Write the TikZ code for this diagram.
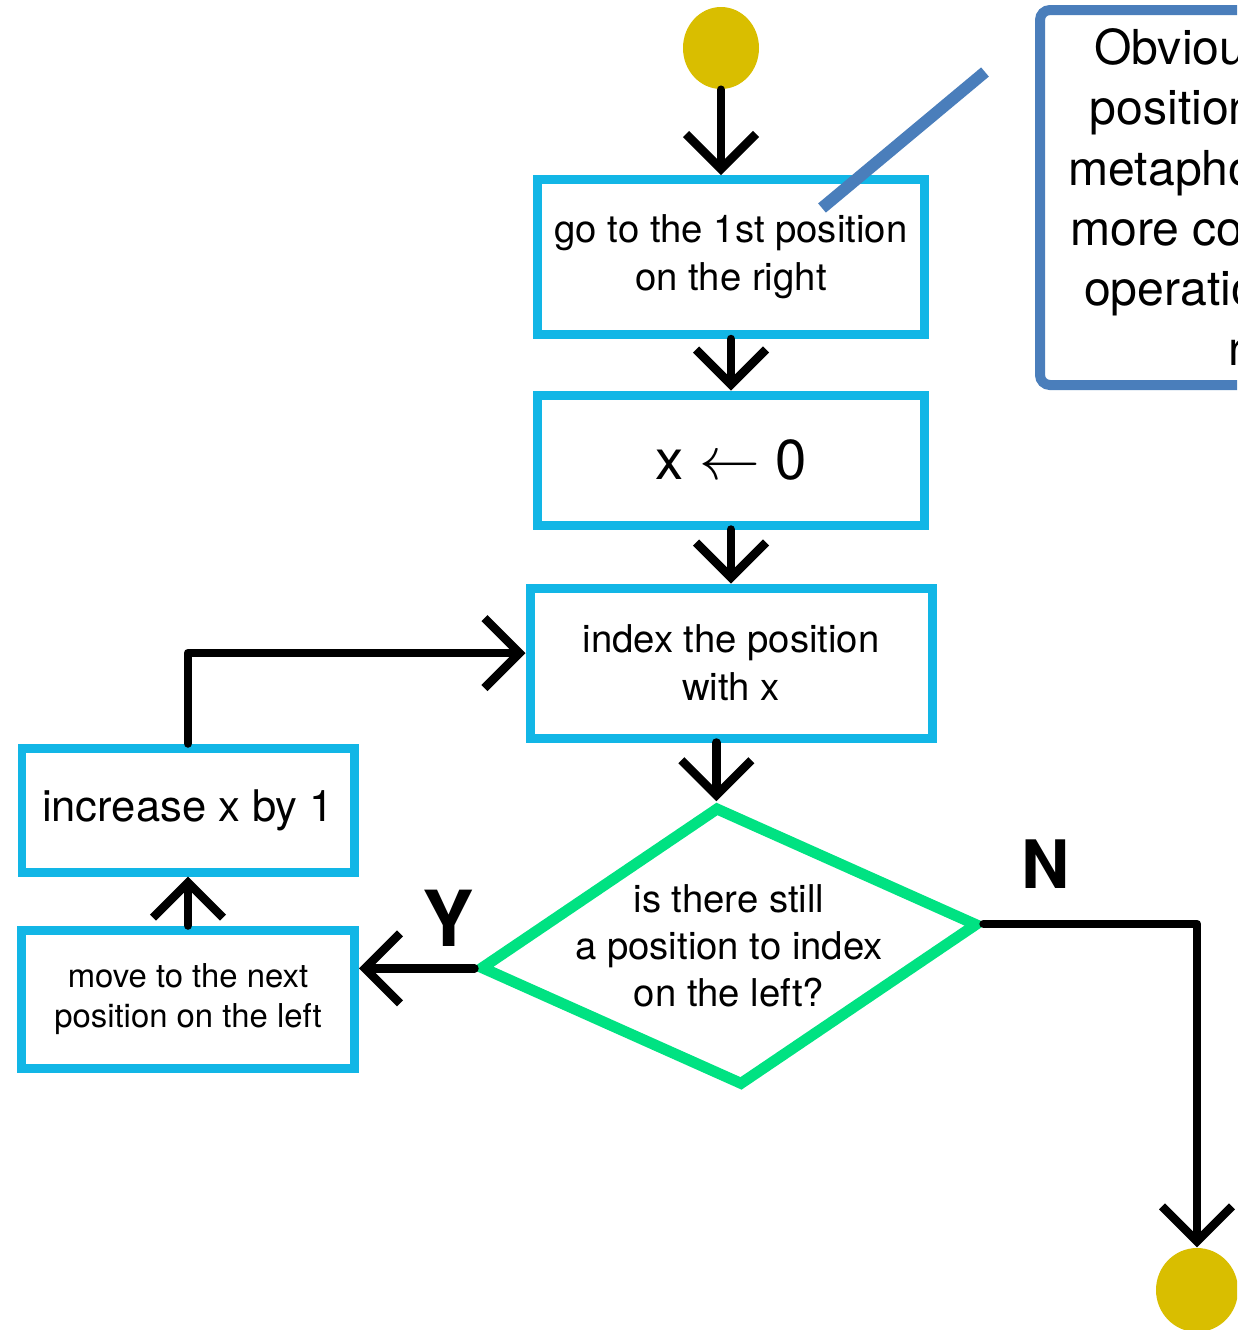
\documentclass[tikz,border=0pt]{standalone}
\usepackage{fontspec}
\setmainfont{TeX Gyre Heros}
\usepackage{xcolor}
\usetikzlibrary{positioning,shapes.geometric,arrows.meta}
\definecolor{boxcyan}{RGB}{18,182,230}
\definecolor{condgreen}{RGB}{0,226,130}
\definecolor{noteblue}{RGB}{74,126,187}
\definecolor{dotyellow}{RGB}{217,190,0}

\begin{document}
\begin{tikzpicture}[node distance=2cm, on grid,
    procbox/.style={draw=boxcyan, line width=0.09cm, align=center, inner sep=0pt,
      font=\fontsize{10.9}{13.7}\selectfont},
    decision/.style={diamond, draw=condgreen, line width=0.11cm, inner sep=0pt,
      minimum width=5cm, minimum height=2.8cm},
    terminal/.style={ellipse, fill=dotyellow, inner sep=0pt},
    note/.style={draw=noteblue, line width=0.1cm, rounded corners=1mm, align=center,
      inner sep=0pt, font=\fontsize{13.7}{17.1}\selectfont},
    flow/.style={-{Straight Barb[length=3.5mm,width=7mm]}, line width=0.085cm,
      line cap=round, line join=round},
    branch/.style={font=\fontsize{22}{22}\selectfont\bfseries}]
    \useasboundingbox (0,0) rectangle (12.37,-13.30);
    \clip (0,0) rectangle (12.37,-13.30);

    % Nodes
    \node[terminal, minimum width=0.76cm, minimum height=0.82cm] (start) at (7.21,-0.48) {};
    \node[procbox, minimum width=3.87cm, minimum height=1.55cm] (go) [below=2.09 of start, xshift=1mm] {go to the 1st position\\on the right};
    \node[procbox, minimum width=3.87cm, minimum height=1.30cm, font=\fontsize{16}{19}\selectfont] (xzero) [below=2.03 of go] {x $\leftarrow$ 0};
    \node[procbox, minimum width=4.02cm, minimum height=1.50cm] (index) [below=2.03 of xzero] {index the position\\with x};
    \node[decision, rotate=5] (cond) [below=2.83 of index, xshift=-0.2mm] {};
    \node[align=center, font=\fontsize{10.9}{13.4}\selectfont] (condtext) at (cond.center) {is there still\\a position to index\\on the left?};
    \node[procbox, minimum width=3.33cm, minimum height=1.38cm, font=\fontsize{9.35}{11.4}\selectfont] (move) at (1.88,-9.99) {move to the next\\position on the left};
    \node[procbox, minimum width=3.32cm, minimum height=1.24cm, font=\fontsize{12.4}{14}\selectfont] (incr) [above=1.89 of move] {increase x by 1};
    \node[terminal, minimum width=0.82cm, minimum height=0.84cm] (stop) at (11.97,-12.90) {};
    \node[note, minimum width=4.6cm, minimum height=3.75cm] (remark) at (12.70,-1.975) {Obviously, these\\positions are just\\metaphor for these\\more concrete and\\operations on the\\run.};
    \node[branch] (yes) at (4.48,-9.18) {Y};
    \node[branch, font=\fontsize{19}{19}\selectfont\bfseries] (no) at (10.46,-8.64) {N};
    \coordinate (ptrtail) at (9.85,-0.72);
    \coordinate (ptrhead) at (8.22,-2.08);

    % Arrows
    \draw[flow] (start) -- (start |- go.north);
    \draw[flow] (go) -- (xzero);
    \draw[flow] (xzero) -- (index);
    \draw[flow] (cond.north |- index.south) -- (cond.north);
    \draw[flow] (cond.west) -- (cond.west -| move.east);
    \draw[flow] (move) -- (incr);
    \draw[flow] (incr.north) |- ([yshift=1mm]index.west);
    \draw[flow] (cond.east) -| (stop.north);
    \draw[noteblue, line width=0.12cm] (ptrtail) -- (ptrhead);
\end{tikzpicture}
\end{document}
